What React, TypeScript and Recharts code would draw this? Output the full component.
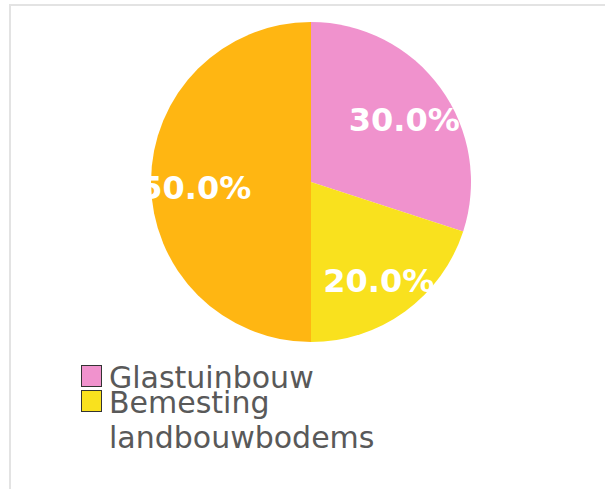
import { PieChart, Pie, Cell, Legend } from 'recharts';

// Share of emissions per source (percent)
const categories = ['Glastuinbouw', 'Bemesting landbouwbodems', 'Overige bronnen'];
const shares = [30, 20, 50];
const sliceColors = ['#F092CD', '#F9E11E', '#FFB612'];
// only the first two sources are listed in the legend
const legendCount = 2;

const chartData = categories.map((name, i) => ({ name, value: shares[i] }));

const RAD = Math.PI / 180;
const FONT = '"DejaVu Sans", Verdana, sans-serif';

function SliceLabel({ cx, cy, midAngle, outerRadius, percent }: any) {
  const r = outerRadius * 0.72;
  const x = cx + r * Math.cos(-midAngle * RAD);
  const y = cy + r * Math.sin(-midAngle * RAD) + 6;
  return (
    <text
      x={x}
      y={y}
      fill="#ffffff"
      textAnchor="middle"
      dominantBaseline="central"
      style={{ fontFamily: FONT, fontSize: 32, fontWeight: 700 }}
    >
      {`${(percent * 100).toFixed(1)}%`}
    </text>
  );
}

function LegendList() {
  return (
    <div>
      {categories.slice(0, legendCount).map((name, i) => (
        <div
          key={`legend-${i}`}
          style={{ display: 'flex', alignItems: 'flex-start', marginBottom: -10 }}
        >
          <span
            style={{
              flex: '0 0 auto',
              width: 19,
              height: 20,
              marginTop: 5,
              marginRight: 7,
              background: sliceColors[i],
              border: '1px solid #333',
            }}
          />
          <span
            style={{
              fontFamily: FONT,
              fontSize: 30,
              lineHeight: '35px',
              color: '#595959',
              width: 275,
            }}
          >
            {name}
          </span>
        </div>
      ))}
    </div>
  );
}

export default function App() {
  return (
    <div
      style={{
        position: 'absolute',
        left: 9,
        top: 4,
        width: 596,
        height: 485,
        boxSizing: 'border-box',
        borderTop: '2px solid #e3e3e3',
        borderLeft: '2px solid #e3e3e3',
        background: '#fff',
      }}
    >
      <div style={{ position: 'absolute', left: -11, top: -6 }}>
        <PieChart width={605} height={489} margin={{ top: 0, right: 0, bottom: 0, left: 0 }}>
          <Pie
            data={chartData}
            dataKey="value"
            nameKey="name"
            cx={311}
            cy={182}
            outerRadius={160}
            startAngle={90}
            endAngle={-270}
            stroke="none"
            labelLine={false}
            label={SliceLabel}
            isAnimationActive={false}
          >
            {chartData.map((_, i) => (
              <Cell key={`cell-${i}`} fill={sliceColors[i]} />
            ))}
          </Pie>
          <Legend
            content={() => <LegendList />}
            wrapperStyle={{ left: 81, top: 360, width: 320, bottom: 'auto' }}
          />
        </PieChart>
      </div>
    </div>
  );
}
